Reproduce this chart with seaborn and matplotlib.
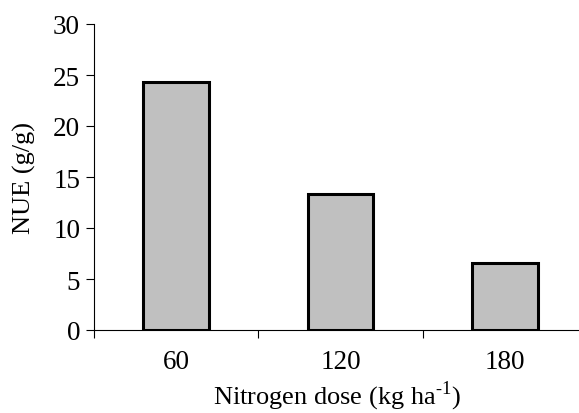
import numpy as np
import pandas as pd
import matplotlib
matplotlib.use("Agg")
import matplotlib.pyplot as plt
import seaborn as sns

# data
doses = ["60", "120", "180"]
nue = [24.3, 13.3, 6.6]

df = pd.DataFrame({"dose": doses, "nue": nue})

sns.set_theme(style="white")
plt.rcParams["font.family"] = ["Liberation Serif", "DejaVu Serif"]
plt.rcParams["mathtext.fontset"] = "custom"
plt.rcParams["mathtext.rm"] = "Liberation Serif"
plt.rcParams["text.color"] = "black"
plt.rcParams["axes.labelcolor"] = "black"
plt.rcParams["xtick.color"] = "black"
plt.rcParams["ytick.color"] = "black"

fig = plt.figure(figsize=(5.79, 4.14), dpi=100)
ax = fig.add_axes([94 / 579, 1 - 331 / 414, 1 - 94 / 579, (331 - 25) / 414])

sns.barplot(data=df, x="dose", y="nue", ax=ax, color="#c0c0c0",
            edgecolor="black", linewidth=2.2, width=0.4, saturation=1)

ax.set_ylim(0, 30)
ax.set_yticks(np.arange(0, 31, 5))
ax.set_xlim(-0.5, 2.45)
# excel style: x ticks between the categories
ax.set_xticks([-0.5, 0.5, 1.5])
ax.set_xticklabels([])
ax.set_xticks(range(len(doses)), minor=True)
ax.set_xticklabels(doses, minor=True)
ax.tick_params(axis="x", which="major", direction="out", length=6, width=0.8,
               color="black", bottom=True)
ax.tick_params(axis="x", which="minor", length=0, pad=14, labelsize=19.5,
               labelcolor="black")
ax.tick_params(axis="y", direction="out", length=6, width=0.8, color="black",
               left=True, labelsize=19.5, pad=4, labelcolor="black")

for s in ["top", "right"]:
    ax.spines[s].set_visible(False)
ax.spines["left"].set_color("black")
ax.spines["bottom"].set_color("black")
ax.spines["left"].set_linewidth(0.8)
ax.spines["bottom"].set_linewidth(0.8)

ax.set_ylabel("NUE (g/g)", fontsize=19, labelpad=12, color="black")
ax.set_xlabel("Nitrogen dose (kg ha$^{\\text{-1}}$)", fontsize=19, labelpad=3,
              color="black")

fig.savefig("out.png", dpi=100)
